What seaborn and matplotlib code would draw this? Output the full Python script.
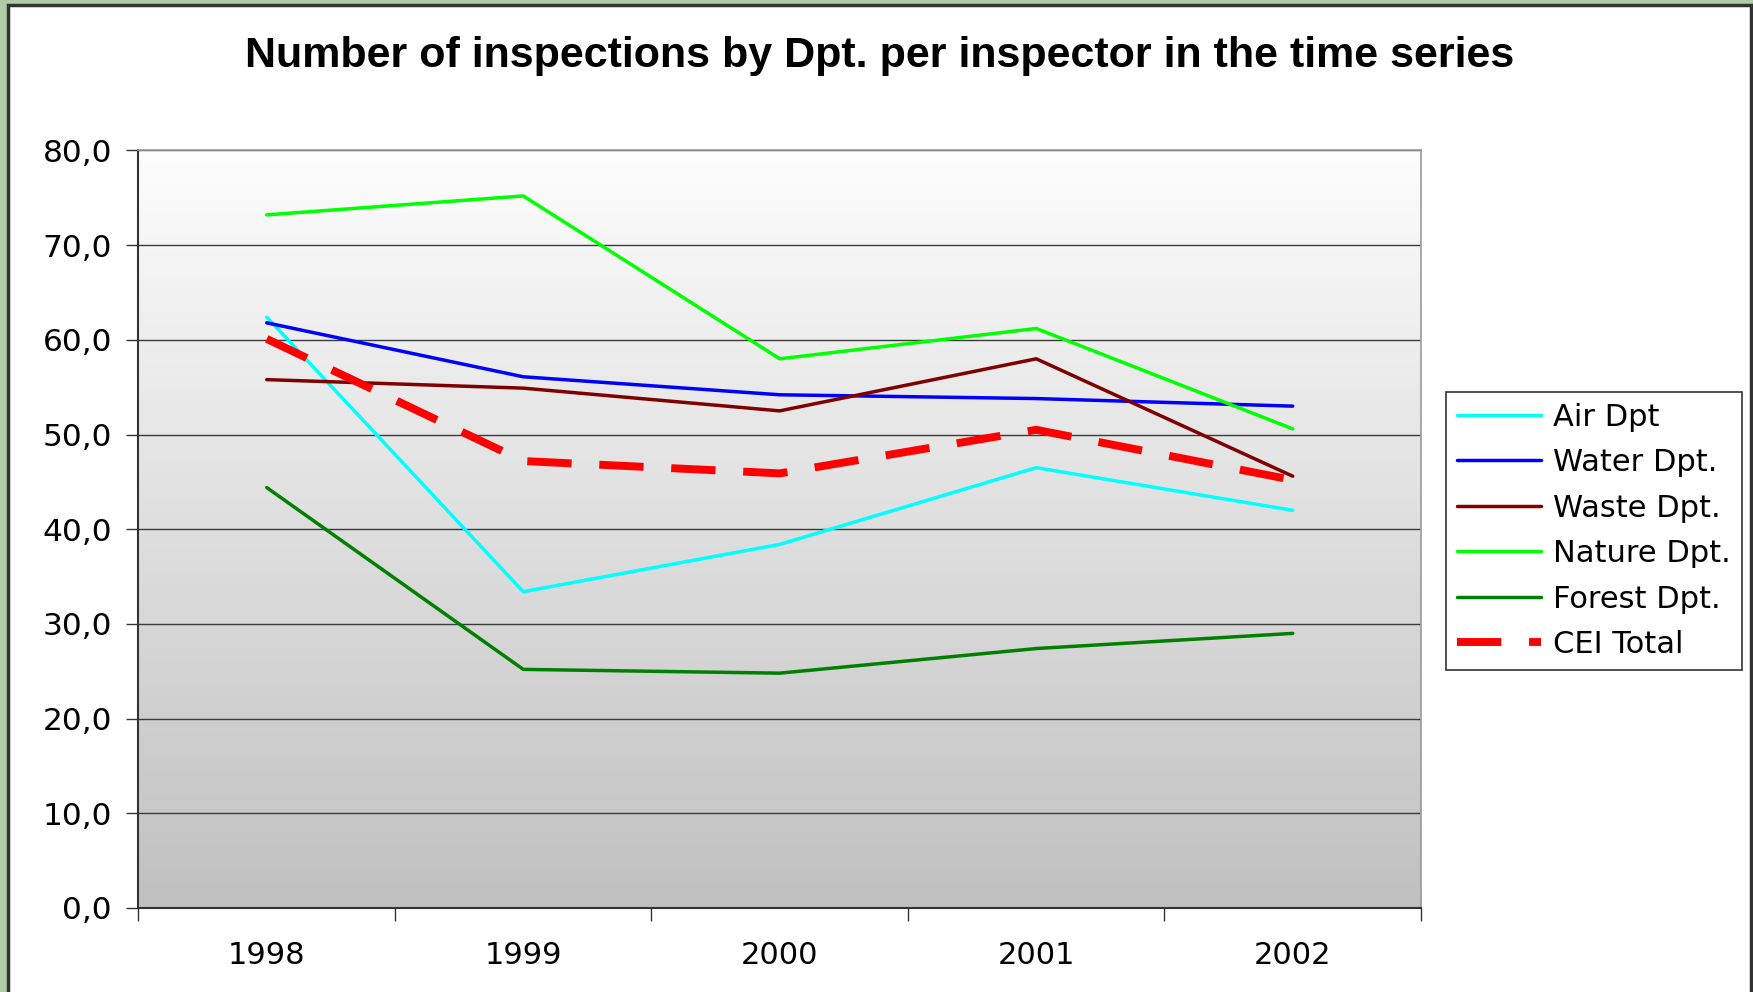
import matplotlib
matplotlib.use("Agg")
import matplotlib.pyplot as plt
import matplotlib.patches as mpatches
import numpy as np
import pandas as pd
import seaborn as sns

years = ["1998", "1999", "2000", "2001", "2002"]
air = [62.4, 33.4, 38.4, 46.5, 42.0]
water = [61.8, 56.1, 54.2, 53.8, 53.0]
waste = [55.8, 54.9, 52.5, 58.0, 45.6]
nature = [73.2, 75.2, 58.0, 61.2, 50.6]
forest = [44.4, 25.2, 24.8, 27.4, 29.0]
cei_total = [60.1, 47.2, 45.9, 50.5, 45.2]

series_names = ["Air Dpt", "Water Dpt.", "Waste Dpt.", "Nature Dpt.", "Forest Dpt.", "CEI Total"]
series_values = [air, water, waste, nature, forest, cei_total]
colors = ["#00ffff", "#0000ff", "#800000", "#00ff00", "#008000", "#ff0000"]

sns.set_theme(style="white")
plt.rcParams["font.family"] = ["DejaVu Sans"]
plt.rcParams["text.color"] = "black"
plt.rcParams["xtick.color"] = "black"
plt.rcParams["ytick.color"] = "black"

df = pd.DataFrame({"year": years * len(series_names),
                   "value": sum(series_values, []),
                   "series": [n for n in series_names for _ in years]})

fig = plt.figure(figsize=(17.53, 9.92), dpi=100, facecolor="#aecba6")
# white chart panel with dark border
fig.patches.append(mpatches.Rectangle((8 / 1753, -0.01), 1743 / 1753, 1 - 5 / 992 + 0.01,
                                      transform=fig.transFigure, facecolor="white",
                                      edgecolor="#333333", linewidth=2.5, zorder=-5))

ax = fig.add_axes([0.079, 0.0847, 0.7316, 0.7636])
ax.set_facecolor("none")

# gradient plot area
grad = np.linspace(0, 1, 256).reshape(-1, 1)
ax.imshow(grad, cmap=matplotlib.colors.LinearSegmentedColormap.from_list("g", ["#c0c0c0", "#fdfdfd"]),
          extent=[0, 1, 0, 1], transform=ax.transAxes, aspect="auto", origin="lower", zorder=0)

for name, color in zip(series_names, colors):
    sub = df[df["series"] == name]
    if name == "CEI Total":
        sns.lineplot(data=sub, x="year", y="value", ax=ax, color=color, lw=5.7,
                     label=name, zorder=4)
        ax.lines[-1].set_dashes((5.6, 3.5))
    else:
        sns.lineplot(data=sub, x="year", y="value", ax=ax, color=color, lw=2.5,
                     label=name, zorder=3)

ax.set_xlim(-0.5, 4.5)
ax.set_ylim(0, 80)
ax.set_yticks(np.arange(0, 81, 10))
ax.set_yticklabels([f"{v:.1f}".replace(".", ",") for v in np.arange(0, 81, 10)], fontsize=22.5)
ax.set_xticks(range(len(years)))
ax.set_xticklabels(years, fontsize=22)
ax.set_xticks(np.arange(-0.5, 5, 1), minor=True)
ax.tick_params(axis="x", which="major", length=0, pad=24)
ax.tick_params(axis="x", which="minor", length=9, width=1, color="#333333", direction="out", bottom=True)
ax.tick_params(axis="y", length=9, width=1, color="#333333", direction="out", pad=10, left=True)
ax.set_xlabel("")
ax.set_ylabel("")
ax.yaxis.grid(True, color="#3a3a3a", linewidth=1)
for ln in ax.get_ygridlines():
    ln.set_zorder(1)

for side in ["left", "bottom"]:
    ax.spines[side].set_color("#333333")
    ax.spines[side].set_linewidth(1.5)
for side in ["top", "right"]:
    ax.spines[side].set_color("#999999")
    ax.spines[side].set_linewidth(1.2)

leg = ax.legend(loc="upper left", bbox_to_anchor=(0.825, 0.605), bbox_transform=fig.transFigure,
                fontsize=22, frameon=True, fancybox=False, edgecolor="#333333",
                handlelength=2.75, handletextpad=0.4, labelspacing=0.54, borderpad=0.35,
                borderaxespad=0)
leg.get_frame().set_linewidth(1.2)
leg.get_frame().set_alpha(1)
for t in leg.get_texts():
    t.set_color("black")

fig.text(0.502, 0.9435, "Number of inspections by Dpt. per inspector in the time series",
         ha="center", va="center", fontsize=31, fontweight="bold", color="black",
         family="Liberation Sans")

fig.savefig("out.png", dpi=100, facecolor=fig.get_facecolor())
